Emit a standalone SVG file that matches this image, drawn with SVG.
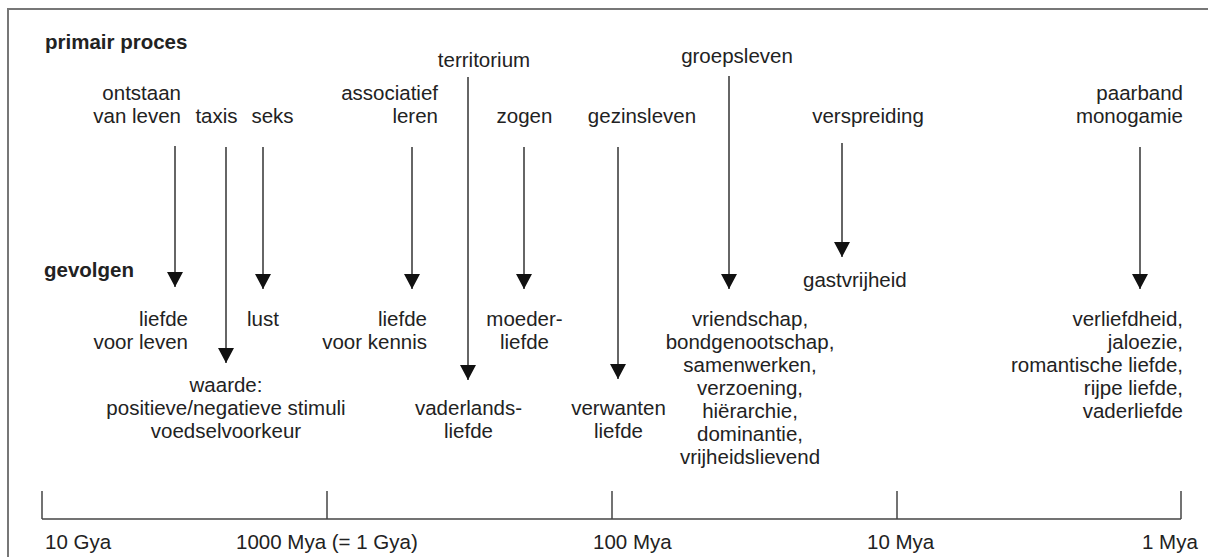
<svg xmlns="http://www.w3.org/2000/svg" width="1208" height="557" viewBox="0 0 1208 557">
  <style>
    text { font-family: "Liberation Sans", Arial, sans-serif; font-size: 20.5px; fill: #222; }
    .hd { font-weight: bold; }
    .m { text-anchor: middle; }
    .e { text-anchor: end; }
    .conn line { stroke: #333; stroke-width: 1.5; marker-end: url(#head); }
    .axis line { stroke: #444; stroke-width: 1.5; }
  </style>
  <defs>
    <marker id="head" markerUnits="userSpaceOnUse" markerWidth="16" markerHeight="16" refX="15" refY="8" orient="auto" viewBox="0 0 16 16">
      <path d="M0,0 L15,8 L0,16 Z" fill="#111"/>
    </marker>
  </defs>

  <rect id="frame" x="8" y="9" width="1215" height="560" fill="#fff" stroke="#777" stroke-width="2"/>

  <!-- row headings -->
  <g id="heading-primair"><text class="hd" x="45" y="49">primair proces</text></g>
  <g id="heading-gevolgen"><text class="hd" x="44" y="277">gevolgen</text></g>

  <!-- primary processes -->
  <g id="p-ontstaan"><text class="e" x="181" y="100">ontstaan</text><text class="e" x="181" y="123">van leven</text></g>
  <g id="p-taxis"><text class="m" x="216.5" y="123">taxis</text></g>
  <g id="p-seks"><text class="m" x="272.5" y="123">seks</text></g>
  <g id="p-associatief"><text class="e" x="438" y="100">associatief</text><text class="e" x="438" y="123">leren</text></g>
  <g id="p-territorium"><text class="m" x="484" y="67">territorium</text></g>
  <g id="p-zogen"><text class="m" x="524.5" y="123">zogen</text></g>
  <g id="p-gezinsleven"><text class="m" x="642" y="123">gezinsleven</text></g>
  <g id="p-groepsleven"><text class="m" x="737" y="63">groepsleven</text></g>
  <g id="p-verspreiding"><text class="m" x="868" y="123">verspreiding</text></g>
  <g id="p-paarband"><text class="e" x="1183" y="100">paarband</text><text class="e" x="1183" y="123">monogamie</text></g>

  <!-- consequences -->
  <g id="c-liefde-leven"><text class="e" x="188" y="326">liefde</text><text class="e" x="188" y="349">voor leven</text></g>
  <g id="c-lust"><text class="m" x="263" y="326">lust</text></g>
  <g id="c-waarde">
    <text class="m" x="226" y="392">waarde:</text>
    <text class="m" x="226" y="415">positieve/negatieve stimuli</text>
    <text class="m" x="226" y="438">voedselvoorkeur</text>
  </g>
  <g id="c-liefde-kennis"><text class="e" x="427" y="326">liefde</text><text class="e" x="427" y="349">voor kennis</text></g>
  <g id="c-moederliefde"><text class="m" x="524.5" y="326">moeder-</text><text class="m" x="524.5" y="349">liefde</text></g>
  <g id="c-vaderlandsliefde"><text class="m" x="468.5" y="415">vaderlands-</text><text class="m" x="468.5" y="438">liefde</text></g>
  <g id="c-verwanten"><text class="m" x="618.5" y="415">verwanten</text><text class="m" x="618.5" y="438">liefde</text></g>
  <g id="c-vriendschap">
    <text class="m" x="750" y="326">vriendschap,</text>
    <text class="m" x="750" y="349">bondgenootschap,</text>
    <text class="m" x="750" y="372">samenwerken,</text>
    <text class="m" x="750" y="395">verzoening,</text>
    <text class="m" x="750" y="418">hiërarchie,</text>
    <text class="m" x="750" y="441">dominantie,</text>
    <text class="m" x="750" y="464">vrijheidslievend</text>
  </g>
  <g id="c-gastvrijheid"><text x="803" y="287">gastvrijheid</text></g>
  <g id="c-verliefdheid">
    <text class="e" x="1183" y="326">verliefdheid,</text>
    <text class="e" x="1183" y="349">jaloezie,</text>
    <text class="e" x="1183" y="372">romantische liefde,</text>
    <text class="e" x="1183" y="395">rijpe liefde,</text>
    <text class="e" x="1183" y="418">vaderliefde</text>
  </g>

  <!-- arrows from process to consequence -->
  <g id="connectors" class="conn">
    <line x1="175" y1="146" x2="175" y2="287"/>
    <line x1="226" y1="147" x2="226" y2="363"/>
    <line x1="263" y1="147" x2="263" y2="289"/>
    <line x1="412" y1="147" x2="412" y2="289"/>
    <line x1="468" y1="77" x2="468" y2="380"/>
    <line x1="524" y1="147" x2="524" y2="289"/>
    <line x1="618" y1="147" x2="618" y2="379"/>
    <line x1="729" y1="76" x2="729" y2="289"/>
    <line x1="842" y1="143" x2="842" y2="257"/>
    <line x1="1140" y1="147" x2="1140" y2="289"/>
  </g>

  <!-- time axis -->
  <g id="axis" class="axis">
    <line x1="42" y1="519" x2="1181" y2="519"/>
    <line x1="42" y1="491" x2="42" y2="519"/>
    <line x1="327" y1="491" x2="327" y2="519"/>
    <line x1="612" y1="491" x2="612" y2="519"/>
    <line x1="897" y1="491" x2="897" y2="519"/>
    <line x1="1181" y1="491" x2="1181" y2="519"/>
    <text x="45" y="549">10 Gya</text>
    <text x="236" y="549">1000 Mya (= 1 Gya)</text>
    <text x="593" y="549">100 Mya</text>
    <text x="867" y="549">10 Mya</text>
    <text x="1142" y="549">1 Mya</text>
  </g>
</svg>
